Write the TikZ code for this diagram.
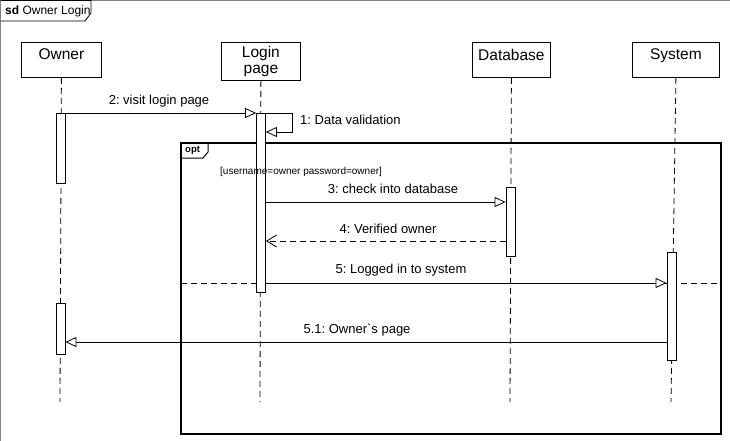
\documentclass[tikz,border=0pt]{standalone}
\usepackage{fontspec}
\setmainfont{Liberation Sans}[Ligatures=TeXOff]
\usetikzlibrary{arrows.meta}
\frenchspacing
\begin{document}
\begin{tikzpicture}[x=1pt,y=-1pt,
  head/.style={draw,line width=0.8pt,fill=white,minimum height=35pt,inner sep=0pt,font=\fontsize{15.5}{16}\selectfont,anchor=north west,align=center},
  life/.style={line width=0.8pt,dash pattern=on 6pt off 4pt},
  act/.style={draw,line width=0.8pt,fill=white,inner sep=0pt,minimum width=9pt,anchor=north},
  msg/.style={line width=0.8pt,-{Triangle[open,length=11pt,width=10pt,fill=white]}},
  reply/.style={line width=0.8pt,dash pattern=on 6pt off 4pt,-{Straight Barb[length=10pt,width=12pt,line width=0.8pt]}},
  lbl/.style={font=\fontsize{13}{14}\selectfont,inner sep=0pt},
  frm/.style={line width=1.1pt}]
\useasboundingbox (0,0) rectangle (730,441);
% outer sd frame
\draw[gray,line width=1pt] (0.5,441) -- (0.5,0.5) -- (730,0.5);
\draw[line width=0.8pt] (0.5,0.5) -- (91,0.5) -- (91,13) -- (85,21) -- (0.5,21);
\node[anchor=west,inner sep=0pt,font=\fontsize{12}{13}\selectfont] (sdlbl) at (5,11) {\textbf{sd} Owner Login};

% heads
\node[head,minimum width=80pt] (owner) at (21,42) {\raisebox{11pt}{Owner}};
\node[head,minimum width=79pt,minimum height=38pt] (login) at (221,42) {Login\\page};
\node[head,minimum width=78pt] (db) at (472,42) {\raisebox{11pt}{Database}};
\node[head,minimum width=87pt] (sys) at (632,42) {\raisebox{11pt}{System}};

% lifeline ends
\coordinate (oe) at (60,402);
\coordinate (le) at (260,402);
\coordinate (de) at (510,402);
\coordinate (se) at (671,402);
\draw[life] (owner.south) -- (oe);
\draw[life] (login.south) -- (le);
\draw[life] (db.south) -- (de);
\draw[life] (sys.south) -- (se);

% opt frame
\draw[frm] (181,143) rectangle (721,434);
\draw[line width=1pt] (181,143) -- (208,143) -- (208,152) -- (203,158) -- (181,158);
\node[anchor=west,inner sep=0pt,font=\fontsize{9.5}{10}\bfseries] (optlbl) at (185,150.5) {opt};
\coordinate (sepL) at (181,283);
\coordinate (sepR) at (721,283);
\draw[line width=0.8pt,dash pattern=on 6pt off 4pt] (sepL) -- (sepR);

% activations
\node[act,minimum height=70pt] (aO1) at (60.5,113) {};
\node[act,minimum height=179pt] (aL) at (261,113) {};
\node[act,minimum height=69pt] (aD) at (510.5,187) {};
\node[act,minimum height=108pt] (aS) at (671.5,252) {};
\node[act,minimum height=51pt] (aO2) at (60.5,303) {};

\node[anchor=west,inner sep=0pt,font=\fontsize{10}{11}\selectfont] (guard) at (220,172) {[username=owner password=owner]};

% message endpoints
\coordinate (m2a) at (aO1.north east);
\coordinate (m2b) at (aL.north west);
\coordinate (m1a) at (aL.north east);
\coordinate (m1b) at (292,113);
\coordinate (m1c) at (292,132);
\coordinate (m1d) at (aL.east |- m1c);
\coordinate (m3a) at (aL.east |- 0,202);
\coordinate (m3b) at (aD.west |- 0,202);
\coordinate (m4a) at (aD.west |- 0,241);
\coordinate (m4b) at (aL.east |- 0,241);
\coordinate (m5a) at (aL.east |- 0,283);
\coordinate (m5b) at (aS.west |- 0,283);
\coordinate (m51a) at (aS.west |- 0,342);
\coordinate (m51b) at (aO2.east |- 0,342);

\draw[msg] (m2a) -- (m2b);
\draw[msg] (m1a) -- (m1b) -- (m1c) -- (m1d);
\draw[msg] (m3a) -- (m3b);
\draw[reply] (m4a) -- (m4b);
\draw[msg] (m5a) -- (m5b);
\draw[msg] (m51a) -- (m51b);

% labels
\node[lbl] (l2) at (159,101) {2: visit login page};
\node[lbl,anchor=west] (l1) at (300,120) {1: Data validation};
\node[lbl] (l3) at (393,189) {3: check into database};
\node[lbl] (l4) at (388,229) {4: Verified owner};
\node[lbl] (l5) at (401,270) {5: Logged in to system};
\node[lbl] (l51) at (357,330) {5.1: Owner`s page};
\end{tikzpicture}
\end{document}
